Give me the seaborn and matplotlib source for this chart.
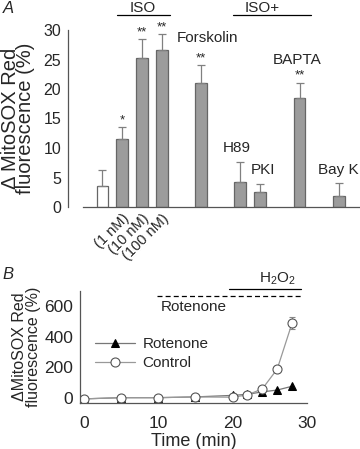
import numpy as np
import pandas as pd
import matplotlib
matplotlib.use('Agg')
import matplotlib.pyplot as plt
import matplotlib.transforms as mtransforms
import seaborn as sns

# panel A data
conditions = ['Control', 'ISO 1 nM', 'ISO 10 nM', 'ISO 100 nM', 'Forskolin',
              'H89', 'PKI', 'BAPTA', 'Bay K']
means = [3.6, 11.5, 25.3, 26.6, 21.0, 4.2, 2.6, 18.4, 1.8]
sems = [2.6, 2.1, 3.1, 2.8, 3.1, 3.5, 1.3, 2.7, 2.3]
stars = ['', '*', '**', '**', '**', '', '', '**', '']
iso_labels = ['(1 nM)', '(10 nM)', '(100 nM)']

# panel B data
time_min = [0, 5, 10, 15, 20, 22, 24, 26, 28]
control = [-8, 0, 0, 5, 3, 18, 58, 188, 490]
control_err = [5, 4, 4, 4, 4, 6, 10, 22, 40]
rotenone = [-8, 0, 0, 5, 15, 22, 38, 50, 75]

sns.set_style('white')
plt.rcParams['font.family'] = ['Liberation Sans', 'DejaVu Sans']
plt.rcParams['mathtext.fontset'] = 'custom'
plt.rcParams['mathtext.rm'] = 'Liberation Sans'

fig = plt.figure(figsize=(3.6, 4.49), dpi=100)
dark = '#555555'
fs = 11

# ---------- panel A ----------
axA = fig.add_axes([68 / 360, 1 - 207 / 449, 292 / 360, 177 / 449])
order = ['Control', 'ISO 1 nM', 'ISO 10 nM', 'ISO 100 nM', '_g1', 'Forskolin', '_g2',
         'H89', 'PKI', '_g3', 'BAPTA', '_g4', 'Bay K']
df_a = pd.DataFrame({'cond': conditions, 'mean': means})
pal = {c: ('white' if c == 'Control' else '#9c9c9c') for c in conditions}
sns.barplot(data=df_a, x='cond', y='mean', order=order, hue='cond', palette=pal,
            width=0.6, edgecolor='#666666', linewidth=0.9, legend=False, ax=axA)
xpos = [order.index(c) for c in conditions]
axA.errorbar(xpos, means, yerr=[np.zeros(len(sems)), sems], fmt='none',
             ecolor='#808080', elinewidth=0.9, capsize=3, capthick=0.9)
for x, m, s, st in zip(xpos, means, sems, stars):
    if st:
        axA.text(x, m + s + 0.1, st, ha='center', va='bottom', fontsize=9.5)

axA.set_xlim(-1.75, 13.07)
axA.set_ylim(0, 30)
axA.set_yticks([0, 5, 10, 15, 20, 25, 30])
axA.set_xticks([order.index(c) for c in conditions[1:4]])
axA.set_xticklabels(iso_labels, rotation=45, ha='right', rotation_mode='anchor',
                    fontsize=10.5)
axA.tick_params(axis='y', labelsize=11.5, length=2, width=0.8, color=dark, pad=3)
axA.tick_params(axis='x', length=0, pad=3)
for side in ['top', 'right']:
    axA.spines[side].set_visible(False)
for side in ['left', 'bottom']:
    axA.spines[side].set_color(dark)
    axA.spines[side].set_linewidth(0.9)
axA.spines['bottom'].set_bounds(-1, 13.07)
axA.set_xlabel('')
axA.set_ylabel('\u0394 MitoSOX Red\nfluorescence (%)', fontsize=14.5, labelpad=6,
               linespacing=0.75)

axA.text(3.78, 28.6, 'Forskolin', fontsize=fs, va='center')
axA.text(8.65, 24.9, 'BAPTA', fontsize=fs, va='center')
axA.text(6.1, 10.0, 'H89', fontsize=fs, va='center')
axA.text(7.5, 6.3, 'PKI', fontsize=fs, va='center')
axA.text(10.95, 6.3, 'Bay K', fontsize=fs, va='center')

trA = mtransforms.blended_transform_factory(axA.transData, axA.transAxes)
line_y = (207 - 14.7) / 177
axA.plot([0.74, 3.45], [line_y, line_y], color='black', lw=0.9, transform=trA, clip_on=False)
axA.plot([6.6, 10.6], [line_y, line_y], color='black', lw=0.9, transform=trA, clip_on=False)
txt_y = (207 - 11.5) / 177
axA.text(2.05, txt_y, 'ISO', transform=trA, ha='center', va='baseline', fontsize=11)
axA.text(8.1, txt_y, 'ISO+', transform=trA, ha='center', va='baseline', fontsize=11)

fig.text(0.008, 0.982, 'A', fontsize=12, style='italic', va='center')

# ---------- panel B ----------
axB = fig.add_axes([80 / 360, 1 - 403 / 449, 227 / 360, 112 / 449])
df_b = pd.DataFrame({'time': time_min, 'Control': control, 'Rotenone': rotenone})
sns.lineplot(data=df_b, x='time', y='Rotenone', color='#777777', lw=0.9, marker='^',
             markersize=6, markerfacecolor='black', markeredgecolor='black',
             label='Rotenone', ax=axB)
axB.errorbar(time_min, control, yerr=control_err, fmt='none', ecolor='#888888',
             elinewidth=0.8, capsize=2.5, capthick=0.8)
sns.lineplot(data=df_b, x='time', y='Control', color='#999999', lw=0.9, marker='o',
             markersize=6.5, markerfacecolor='white', markeredgecolor='#555555',
             markeredgewidth=0.8, label='Control', ax=axB)

axB.set_xlim(-0.5, 30)
axB.set_ylim(-35, 700)
axB.set_xticks([0, 10, 20, 30])
axB.set_yticks([0, 200, 400, 600])
axB.tick_params(labelsize=12.5, length=2, width=0.8, color=dark, direction='in', pad=5)
axB.tick_params(axis='x', pad=9)
for side in ['top', 'right']:
    axB.spines[side].set_visible(False)
for side in ['left', 'bottom']:
    axB.spines[side].set_color(dark)
    axB.spines[side].set_linewidth(0.9)
axB.set_xlabel('Time (min)', fontsize=13, labelpad=2)
axB.set_ylabel('\u0394MitoSOX Red\nfluorescence (%)', fontsize=11.5, labelpad=2,
               linespacing=0.95)
leg = axB.legend(loc='upper left', bbox_to_anchor=(0.04, 0.64), frameon=False,
                 fontsize=fs, handlelength=2.6, borderaxespad=0,
                 labelspacing=0.3, handletextpad=0.5)

axB.plot([19.5, 29.2], [712, 712], color='black', lw=0.9, clip_on=False)
axB.plot([9.9, 29.2], [670, 670], color='black', lw=0.9, ls=(0, (4, 2.5)), clip_on=False)
axB.text(26.0, 725, 'H$_2$O$_2$', ha='center', va='bottom', fontsize=fs)
axB.text(10.3, 598, 'Rotenone', ha='left', va='center', fontsize=fs)

fig.text(0.008, 0.388, 'B', fontsize=12, style='italic', va='center')

fig.savefig('out.png', dpi=100)
